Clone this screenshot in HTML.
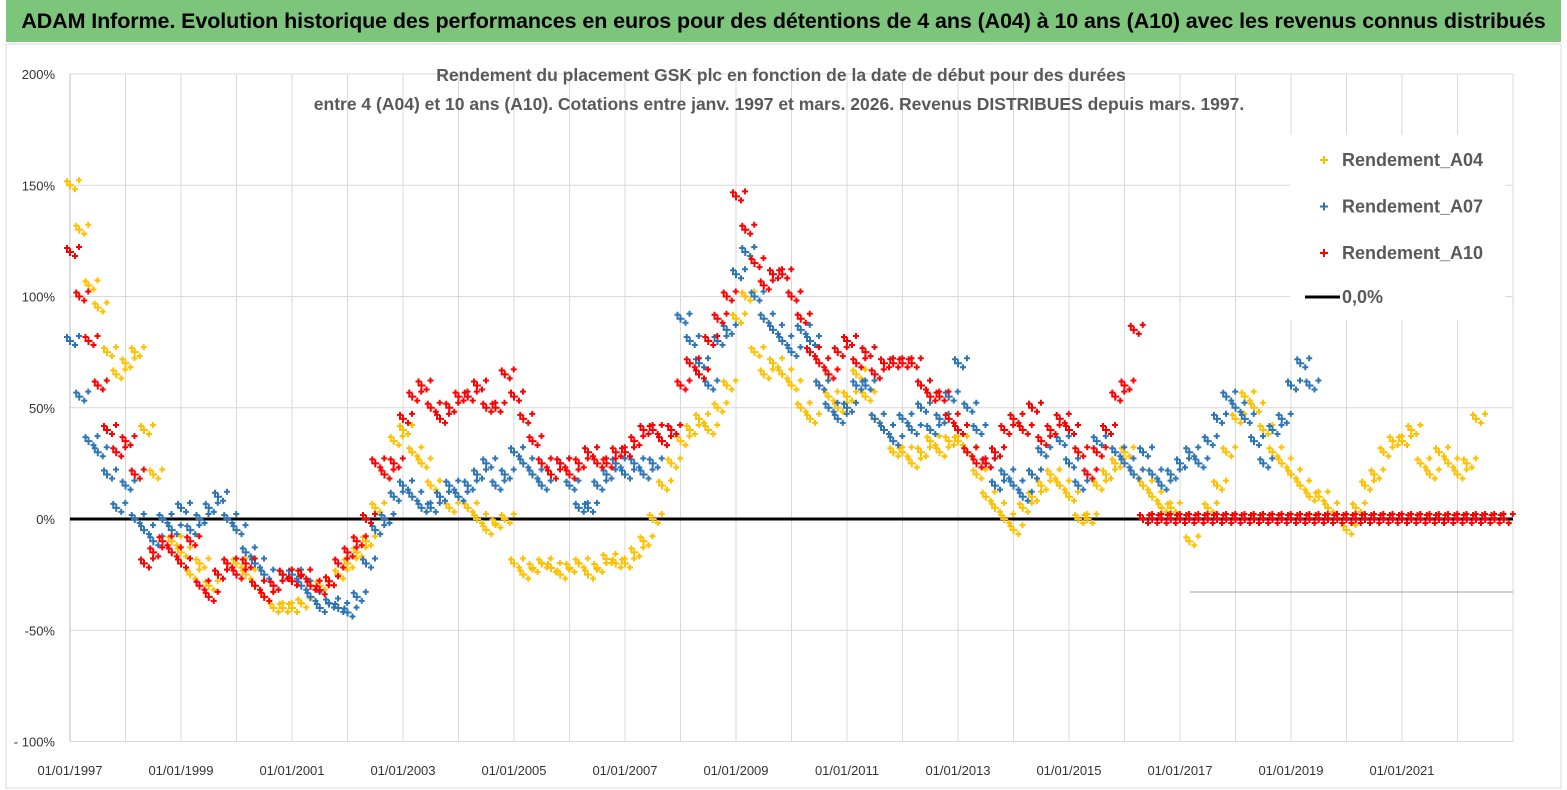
<!DOCTYPE html>
<html><head><meta charset="utf-8">
<style>
body{margin:0;background:#fff;font-family:"Liberation Sans",sans-serif;}
#wrap{position:relative;width:1567px;height:790px;overflow:hidden;background:#fff;}
#title{position:absolute;left:6px;top:0;width:1555px;height:42px;background:#7dc57a;color:#000;font-weight:bold;font-size:21.5px;line-height:42px;text-align:center;letter-spacing:-0.1px;}
</style></head>
<body>
<div id="wrap">
<div id="title">ADAM Informe. Evolution historique des performances en euros pour des détentions de 4 ans (A04) à 10 ans (A10) avec les revenus connus distribués</div>
<svg id="chart" width="1567" height="790" style="position:absolute;left:0;top:0"></svg>
</div>
<script>
const yTicks=[200,150,100,50,0,-50,-100];
const yTickLabels=["200%","150%","100%","50%","0%","-50%","- 100%"];
const xTickYears=[1997,1999,2001,2003,2005,2007,2009,2011,2013,2015,2017,2019,2021];
const xTickLabels=["01/01/1997","01/01/1999","01/01/2001","01/01/2003","01/01/2005","01/01/2007","01/01/2009","01/01/2011","01/01/2013","01/01/2015","01/01/2017","01/01/2019","01/01/2021"];
const startYear=1997, stepYears=1/6;
const a04=[150,130,105,95,75,65, 70,75,40,20,0,-10, -15,-25,-20,-30,-25,-20, -20,-25,-30,-35,-40,-40, -40,-38,-30,-30,-28,-25, -20,-15,-10,5,20,35, 40,30,25,15,10,5, 10,5,0,-5,-2,0, -20,-25,-22,-20,-22,-25, -22,-20,-25,-22,-18,-20, -20,-15,-10,0,15,25, 35,40,45,40,50,60, 90,100,75,65,70,65, 60,50,45,60,55,50, 55,65,55,45,40,30, 30,25,30,35,30,35, 35,30,20,10,5,0, -5,5,10,15,20,15, 10,0,0,15,20,25, 30,20,15,10,5,5, 0,-10,0,5,15,30, 45,55,50,40,30,25, 20,15,10,10,5,0, -5,5,15,20,30,35, 35,40,25,20,30,25, 20,25,45];
const a07=[80,55,35,30,20,5, 15,0,-5,-10,0,-5, 5,-5,0,5,10,0, -5,-15,-20,-25,-30,-25, -25,-30,-35,-40,-38,-40, -42,-35,-20,-5,0,10, 15,10,5,5,10,15, 10,15,20,25,15,20, 30,25,20,15,20,25, 15,5,5,15,20,25, 20,25,20,25,35,40, 90,80,70,60,80,85, 110,120,100,90,85,80, 75,85,80,60,50,45, 50,60,60,45,40,35, 45,40,50,40,45,55, 70,50,40,25,15,20, 15,10,20,30,40,35, 25,15,20,35,40,30, 25,20,30,20,15,20, 25,30,25,35,45,55, 50,45,35,25,40,45, 60,70,60];
const a10=[120,100,80,60,40,30, 35,20,-20,-15,-10,-15, -20,-10,-30,-35,-25,-20, -25,-20,-30,-35,-30,-25, -28,-25,-30,-32,-28,-20, -15,-10,0,25,20,25, 45,55,60,50,45,50, 55,55,60,50,50,65, 55,45,35,25,20,25, 20,25,30,25,25,30, 30,35,40,40,35,40, 60,70,65,80,90,100, 145,130,115,105,110,110, 100,90,75,70,65,75, 80,70,75,65,70,70, 70,70,60,55,55,45, 40,30,25,25,30,40, 45,40,50,35,40,45, 40,30,20,30,40,55, 60,85,0,0,0,0, 0,0,0,0,0,0, 0,0,0,0,0,0, 0,0,0,0,0,0, 0,0,0,0,0,0, 0,0,0,0,0,0, 0,0,0,0,0,0];
const seriesNames=["Rendement_A04","Rendement_A07","Rendement_A10"];

const NS="http://www.w3.org/2000/svg";
const svg=document.getElementById('chart');
const X0=70,X1=1513,Y0=519,pxPerPct=2.225,pxPerYear=55.5;
function xs(year){return X0+(year-startYear)*pxPerYear;}
function ys(v){return Y0-v*pxPerPct;}
function mk(tag,attrs,parent){const e=document.createElementNS(NS,tag);for(const k in attrs)e.setAttribute(k,attrs[k]);(parent||svg).appendChild(e);return e;}

const frame=mk('rect',{x:6,y:44,width:1555,height:744,fill:'none',stroke:'#d9d9d9'});


for(let y=1997;y<=2023;y++){const l=mk('line',{x1:xs(y),x2:xs(y),y1:ys(200),y2:ys(-100),stroke:'#d9d9d9','stroke-width':1});

}
yTicks.forEach((t,i)=>{const l=mk('line',{x1:X0,x2:X1,y1:ys(t),y2:ys(t),stroke:'#d9d9d9','stroke-width':1});


const tx=mk('text',{x:55,y:ys(t)+5,'text-anchor':'end','font-size':13,fill:'#333'});tx.textContent=yTickLabels[i];

});
xTickYears.forEach((y,i)=>{const tx=mk('text',{x:xs(y),y:775,'text-anchor':'middle','font-size':13,fill:'#333'});tx.textContent=xTickLabels[i];

});
const ax=mk('line',{x1:X0,x2:X0,y1:ys(200),y2:ys(-100),stroke:'#bfbfbf'});


const stray=mk('line',{x1:1190,x2:X1,y1:592,y2:592,stroke:'#a6a6a6'});



const t1=mk('text',{x:781,y:81,'text-anchor':'middle','font-size':17.5,'font-weight':'bold',fill:'#595959'});t1.textContent="Rendement du placement GSK plc en fonction de la date de début pour des durées";


const t2=mk('text',{x:779,y:110,'text-anchor':'middle','font-size':17.5,'font-weight':'bold',fill:'#595959'});t2.textContent="entre 4 (A04) et 10 ans (A10). Cotations entre janv. 1997 et mars. 2026. Revenus DISTRIBUES depuis mars. 1997.";



const z=mk('line',{x1:X0,x2:X1,y1:ys(0),y2:ys(0),stroke:'#000','stroke-width':3});



function drawSeries(arr,color,name){
  const g=mk('g',{stroke:color,'stroke-width':2});
  
  
  arr.forEach((v,i)=>{
    const x=xs(startYear+i*stepYears),y=ys(v);
    const p=mk('path',{d:`M${x-4} ${y}H${x+4}M${x} ${y-4}V${y+4}M${x+2} ${y+4}h6M${x+5} ${y+1}v6M${x+6} ${y-5}h6M${x+9} ${y-8}v6M${x-6} ${y-4}h6M${x-3} ${y-7}v6`},g);
    
    
  });
}
drawSeries(a04,'#ffc000','series-a04');
drawSeries(a07,'#2e75b6','series-a07');
drawSeries(a10,'#ff0000','series-a10');

const lg=mk('g',{});


mk('rect',{x:1290,y:135,width:215,height:185,fill:'#fff'},lg);
const lc=['#ffc000','#2e75b6','#ff0000'];
seriesNames.forEach((n,i)=>{const y=160+i*46.5;
 const m=mk('path',{d:`M1320 ${y}h8M1324 ${y-4}v8`,stroke:lc[i],'stroke-width':2},lg);
 
 
 const tx=mk('text',{x:1342,y:y+6,'font-size':18,'font-weight':'bold',fill:'#595959'},lg);tx.textContent=n;
 
 });
const ll=mk('line',{x1:1305,x2:1340,y1:297,y2:297,stroke:'#000','stroke-width':3},lg);


const lt=mk('text',{x:1342,y:303,'font-size':18,'font-weight':'bold',fill:'#595959'},lg);lt.textContent="0,0%";


</script>
</body></html>
